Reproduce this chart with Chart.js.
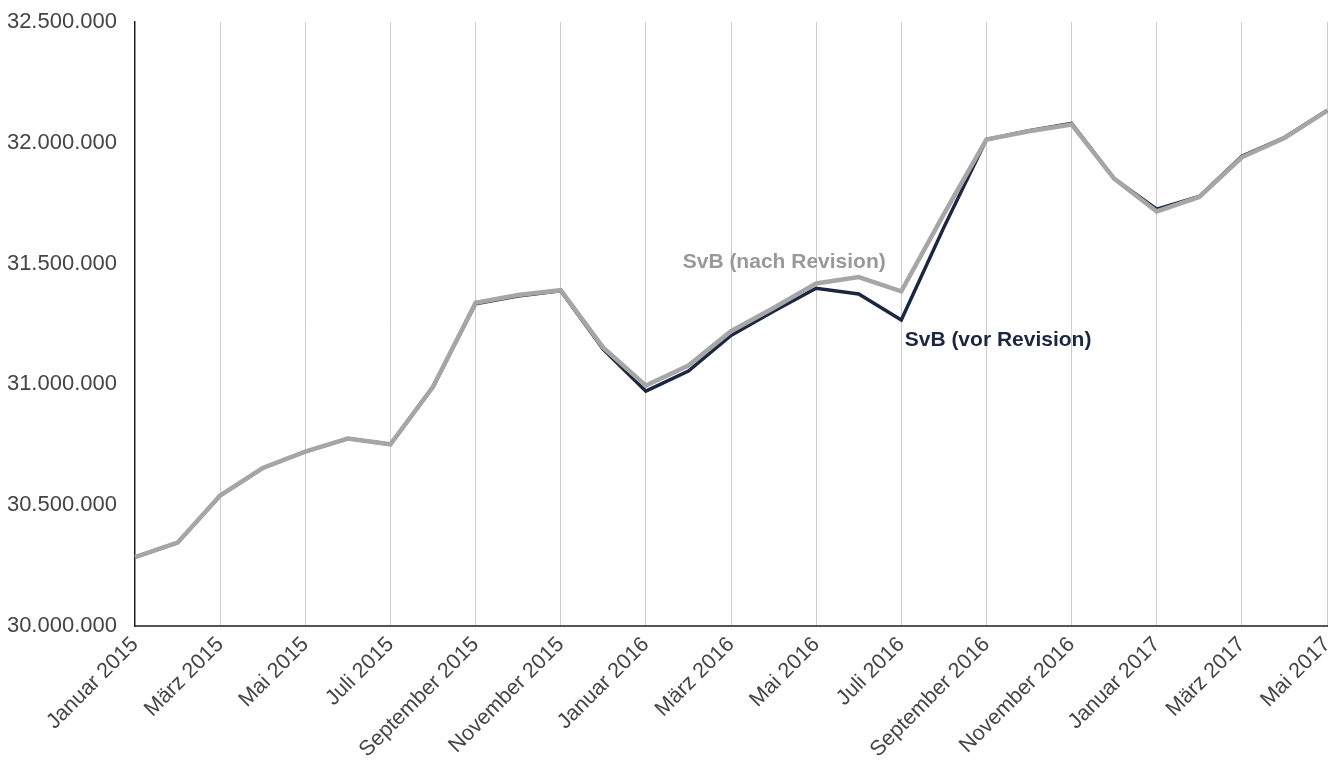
<!DOCTYPE html>
<html>
<head>
<meta charset="utf-8">
<script src="https://cdn.jsdelivr.net/npm/chart.js@4.4.0/dist/chart.umd.min.js"></script>
<style>
  html, body { margin: 0; padding: 0; background: #fff; }
  #wrap { width: 1341px; height: 762px; }
</style>
</head>
<body>
<div id="wrap"><canvas id="svbChart"></canvas></div>
<script>
// Monate Januar 2015 - Mai 2017
const monate = [
    'Januar 2015', 'Februar 2015', 'März 2015', 'April 2015', 'Mai 2015', 'Juni 2015',
    'Juli 2015', 'August 2015', 'September 2015', 'Oktober 2015', 'November 2015', 'Dezember 2015',
    'Januar 2016', 'Februar 2016', 'März 2016', 'April 2016', 'Mai 2016', 'Juni 2016',
    'Juli 2016', 'August 2016', 'September 2016', 'Oktober 2016', 'November 2016', 'Dezember 2016',
    'Januar 2017', 'Februar 2017', 'März 2017', 'April 2017', 'Mai 2017'
];

// SvB nach Revision (grau)
const svbNach = [
    30285000, 30345000, 30540000, 30654000, 30722000, 30776000,
    30752000, 30990000, 31338000, 31370000, 31390000, 31152000,
    30995000, 31078000, 31220000, 31316000, 31418000, 31444000,
    31385000, 31705000, 32014000, 32048000, 32076000, 31852000,
    31716000, 31776000, 31940000, 32020000, 32132000
];

// SvB vor Revision (dunkel)
const svbVor = [
    30285000, 30345000, 30540000, 30654000, 30722000, 30776000,
    30752000, 30990000, 31334000, 31366000, 31388000, 31145000,
    30972000, 31055000, 31203000, 31303000, 31398000, 31374000,
    31267000, 31650000, 32014000, 32050000, 32080000, 31852000,
    31725000, 31778000, 31944000, 32022000, 32134000
];

// Beschriftungen: [Text, Monatsindex, Wert, Ausrichtung, Farbe]
const beschriftungen = [
    ['SvB (nach Revision)', 15.25, 31505000, 'center', '#999999'],
    ['SvB (vor Revision)', 18.08, 31185000, 'left', '#1b2640']
];

const yMin = 30000000, yMax = 32500000, yStep = 500000;

function formatDe(v) {
    return String(Math.round(v)).replace(/\B(?=(\d{3})+(?!\d))/g, '.');
}

const labelPlugin = {
    id: 'serienLabels',
    afterDatasetsDraw(chart) {
        const ctx = chart.ctx;
        const xs = chart.scales.x, ys = chart.scales.y;
        ctx.save();
        ctx.font = 'bold 21px "Liberation Sans", Arial, sans-serif';
        ctx.textBaseline = 'middle';
        beschriftungen.forEach(b => {
            ctx.fillStyle = b[4];
            ctx.textAlign = b[3];
            ctx.fillText(b[0], xs.getPixelForValue(b[1]), ys.getPixelForValue(b[2]));
        });
        ctx.restore();
    }
};

new Chart(document.getElementById('svbChart'), {
    type: 'line',
    data: {
        labels: monate,
        datasets: [
            {
                label: 'SvB (nach Revision)',
                data: svbNach,
                borderColor: '#a6a6a6',
                borderWidth: 4.5,
                pointRadius: 0,
                tension: 0,
                order: 1
            },
            {
                label: 'SvB (vor Revision)',
                data: svbVor,
                borderColor: '#1b2640',
                borderWidth: 3.5,
                pointRadius: 0,
                tension: 0,
                order: 2
            }
        ]
    },
    options: {
        responsive: true,
        maintainAspectRatio: false,
        animation: false,
        layout: { padding: { top: 22, right: 14, left: 0, bottom: 0 } },
        plugins: {
            legend: { display: false },
            tooltip: { enabled: false }
        },
        scales: {
            x: {
                grid: {
                    color: c => (c.index % 2 === 0 && c.index !== 0) ? '#cccccc' : 'rgba(0,0,0,0)',
                    lineWidth: 1,
                    drawTicks: false
                },
                border: { color: '#555555', width: 2 },
                ticks: {
                    autoSkip: false,
                    maxRotation: 45,
                    minRotation: 45,
                    padding: 6,
                    color: '#444444',
                    font: { family: '"Liberation Sans", Arial, sans-serif', size: 21.5 },
                    callback: function (val, i) { return i % 2 === 0 ? this.getLabelForValue(val) : ''; }
                },
                afterFit: s => {
                    s.height = 136;
                    s.paddingLeft = 0;
                    s.paddingRight = 0;
                }
            },
            y: {
                min: yMin,
                max: yMax,
                grid: { color: 'rgba(0,0,0,0)', drawTicks: false },
                border: { color: '#222222', width: 1.5 },
                ticks: {
                    stepSize: yStep,
                    padding: 18,
                    color: '#444444',
                    font: { family: '"Liberation Sans", Arial, sans-serif', size: 22 },
                    callback: v => formatDe(v)
                },
                afterFit: s => {
                    s.width = 135;
                    s.paddingTop = 0;
                    s.paddingBottom = 0;
                }
            }
        }
    },
    plugins: [labelPlugin]
});
</script>
</body>
</html>
